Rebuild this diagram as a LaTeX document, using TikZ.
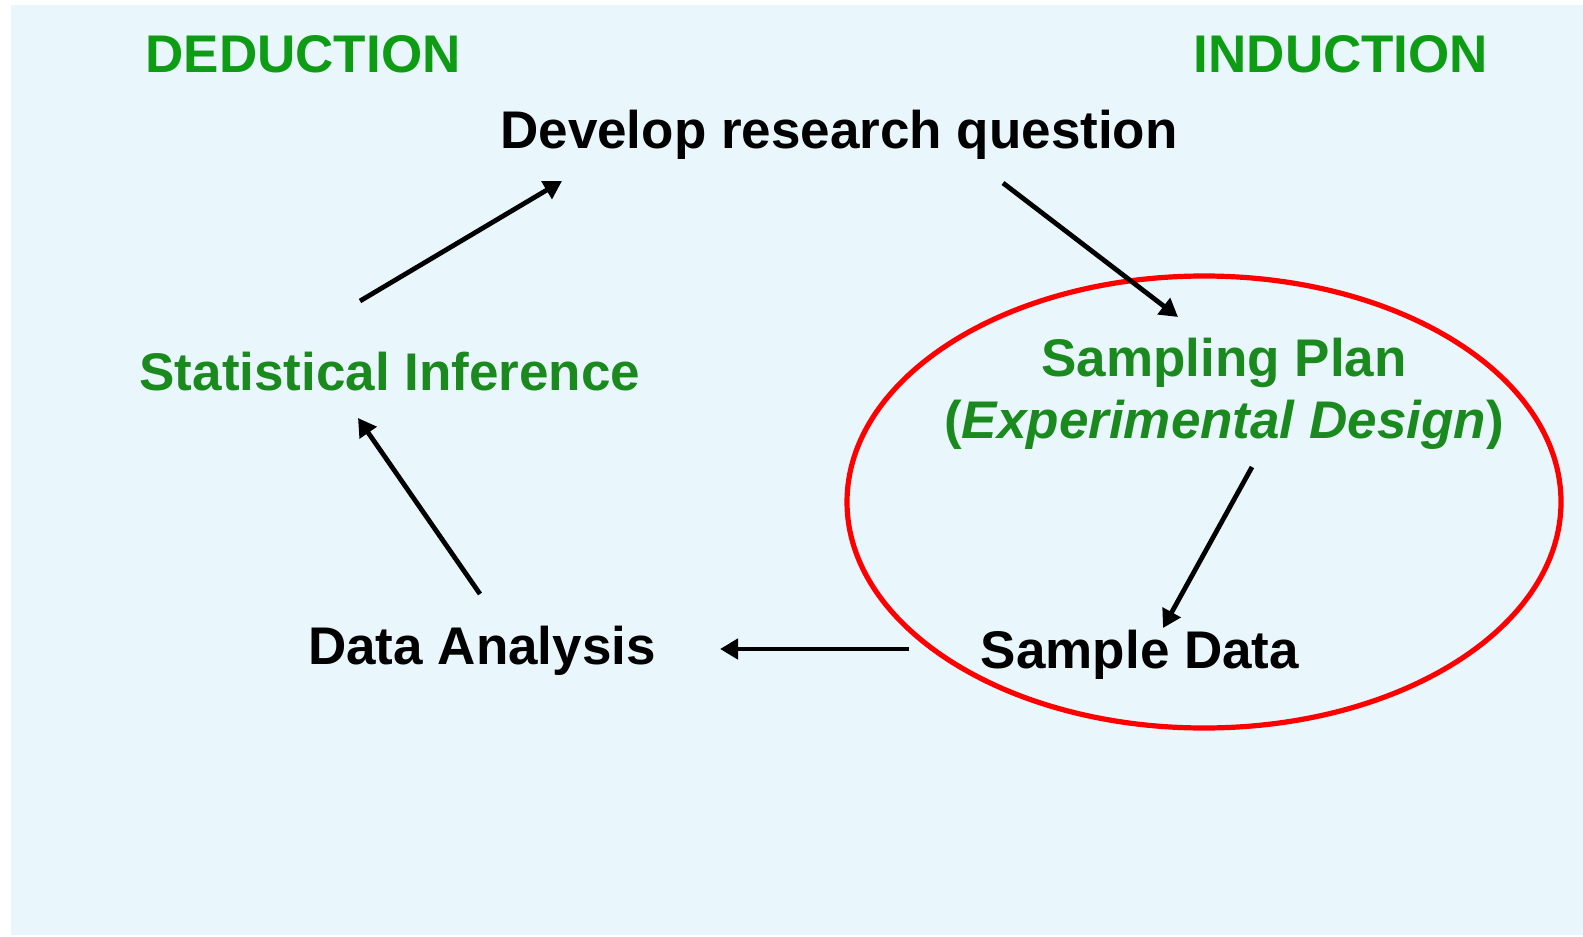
\documentclass[tikz,border=0pt]{standalone}
\usepackage{fontspec}
\setmainfont{Liberation Sans}
\usetikzlibrary{arrows.meta}
\definecolor{bgblue}{RGB}{233,246,251}
\definecolor{headgreen}{RGB}{14,156,20}
\definecolor{labgreen}{RGB}{26,138,30}
\begin{document}
\begin{tikzpicture}[x=0.5pt,y=-0.5pt,
  lab/.style={font=\bfseries\fontsize{26.5}{32}\selectfont, inner sep=0pt, anchor=center},
  head/.style={lab, text=headgreen},
  grn/.style={lab, text=labgreen},
  blk/.style={lab, text=black},
  conn/.style={line width=2.4pt, -{Triangle[length=9pt,width=10pt]}}]
\useasboundingbox (0,0) rectangle (1583,936);
\fill[white] (0,0) rectangle (1583,936);
\fill[bgblue] (11,5) rectangle (1583,935);
% titles
\node[head] (ded) at (303,54) {DEDUCTION};
\node[head] (ind) at (1341,54) {INDUCTION};
% steps
\node[blk] (q) at (839,135) {Develop research question};
\node[grn] (si) at (390,372) {Statistical Inference};
\node[grn] (sp) at (1224,363) {Sampling Plan};
\node[grn] (ed) at (1224,425) {(\textit{Experimental Design})};
\node[blk] (da) at (482,651) {Data Analysis};
\node[blk] (sd) at (1140,655) {Sample Data};
% ellipse
\coordinate (ellc) at (1204,502);
\draw[red, line width=2.6pt] (ellc) ellipse [x radius=357, y radius=226];
% arrow endpoints
\coordinate (s1) at (360,301); \coordinate (e1) at (562,181);
\coordinate (s2) at (1003,183); \coordinate (e2) at (1178,317);
\coordinate (s3) at (1252,467); \coordinate (e3) at (1163,628);
\coordinate (s4) at (909,649); \coordinate (e4) at (720,649);
\coordinate (s5) at (480,594); \coordinate (e5) at (358,418);
\draw[conn] (s1) -- (e1);
\draw[conn] (s2) -- (e2);
\draw[conn] (s3) -- (e3);
\draw[conn] (s4) -- (e4);
\draw[conn] (s5) -- (e5);
\end{tikzpicture}
\end{document}
